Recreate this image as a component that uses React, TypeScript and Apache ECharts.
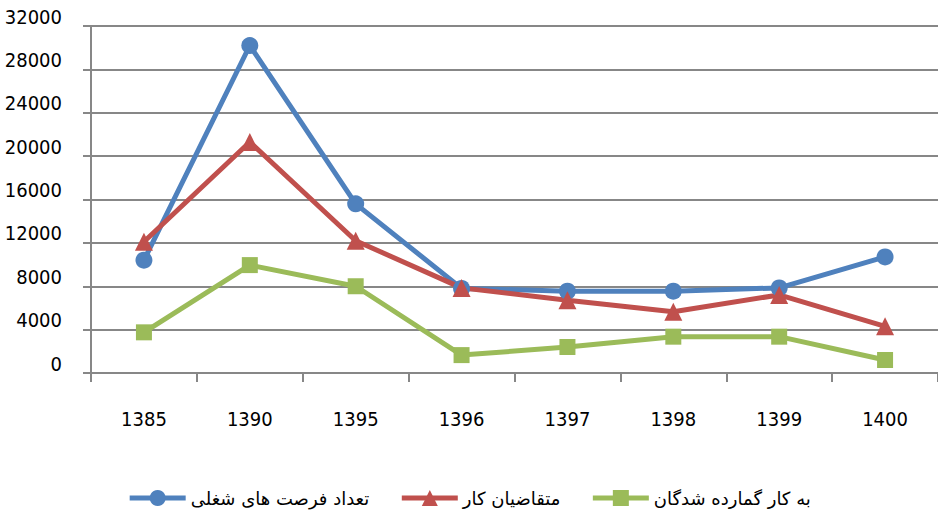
import React, { useEffect, useRef } from "react";
import * as echarts from "echarts";

const categories = ["1385", "1390", "1395", "1396", "1397", "1398", "1399", "1400"];
const jobOpportunities = [10400, 30200, 15600, 7800, 7550, 7550, 7850, 10700];
const jobSeekers = [12100, 21300, 12200, 7850, 6700, 5650, 7200, 4300];
const employed = [3750, 9950, 8000, 1650, 2400, 3350, 3350, 1200];
const seriesNames = ["تعداد فرصت های شغلی", "متقاضیان کار", "به کار گمارده شدگان"];

const numFont = '"DejaVu Sans Condensed", "DejaVu Sans", sans-serif';
const gridColor = "#878787";

export default function App() {
  const ref = useRef<HTMLDivElement>(null);
  useEffect(() => {
    if (!ref.current) return;
    const chart = echarts.init(ref.current, undefined, { renderer: "svg" });
    chart.setOption({
      animation: false,
      backgroundColor: "#ffffff",
      grid: { left: 91, right: 0, top: 26, bottom: 141, containLabel: false, outerBoundsMode: "none" },
      legend: {
        bottom: 2,
        left: "center",
        itemWidth: 56,
        itemHeight: 20,
        itemGap: 30,
        lineStyle: { width: 5 },
        textStyle: { fontFamily: '"DejaVu Sans", sans-serif', fontSize: 18, color: "#000" },
        data: seriesNames,
      },
      xAxis: {
        type: "category",
        data: categories,
        boundaryGap: true,
        axisLine: { show: true, lineStyle: { color: gridColor, width: 2 } },
        axisTick: { show: true, length: 9, lineStyle: { color: gridColor, width: 2 } },
        axisLabel: { margin: 36, fontFamily: numFont, fontSize: 20, color: "#000" },
      },
      yAxis: {
        type: "value",
        min: 0,
        max: 32000,
        interval: 4000,
        axisLine: { show: true, lineStyle: { color: gridColor, width: 2 } },
        axisTick: { show: true, length: 8, lineStyle: { color: gridColor, width: 2 } },
        splitLine: { show: true, lineStyle: { color: gridColor, width: 2 } },
        axisLabel: {
          margin: 29,
          fontFamily: numFont,
          fontSize: 20,
          color: "#000",
          verticalAlign: "bottom",
          lineHeight: 19,
          formatter: (v: number) => String(v),
        },
      },
      series: [
        {
          name: seriesNames[0],
          type: "line",
          data: jobOpportunities,
          symbol: "circle",
          symbolSize: 17,
          color: "#4F81BD",
          lineStyle: { width: 5, color: "#4F81BD" },
          itemStyle: { color: "#4F81BD" },
        },
        {
          name: seriesNames[1],
          type: "line",
          data: jobSeekers,
          symbol: "triangle",
          symbolSize: 18,
          color: "#C0504D",
          lineStyle: { width: 5, color: "#C0504D" },
          itemStyle: { color: "#C0504D" },
        },
        {
          name: seriesNames[2],
          type: "line",
          data: employed,
          symbol: "rect",
          symbolSize: 16,
          color: "#9BBB59",
          lineStyle: { width: 5, color: "#9BBB59" },
          itemStyle: { color: "#9BBB59" },
        },
      ],
    });
    return () => chart.dispose();
  }, []);
  return <div ref={ref} style={{ width: 938, height: 514, position: "absolute", left: 0, top: 0 }} />;
}
